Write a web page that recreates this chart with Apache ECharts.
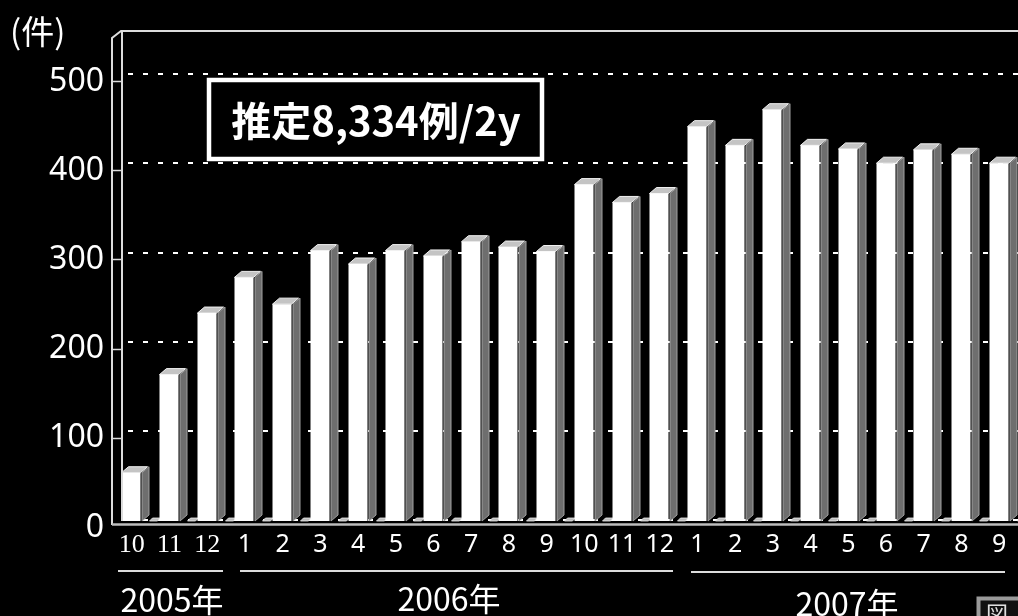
<!DOCTYPE html>
<html>
<head>
<meta charset="utf-8">
<script src="https://cdn.jsdelivr.net/npm/echarts@6/dist/echarts.min.js"></script>
<style>
  html, body { margin: 0; padding: 0; background: #000; }
  #chart { width: 1018px; height: 616px; }
</style>
</head>
<body>
<div id="chart"></div>
<script>
// Monthly case counts, Oct 2005 – Sep 2007
const months = ['10','11','12','1','2','3','4','5','6','7','8','9','10','11','12','1','2','3','4','5','6','7','8','9'];
const cases = [53,163,232,272,242,302,287,302,296,312,306,301,376,356,366,441,420,460,420,416,400,415,410,400];
const yTicks = [0,100,200,300,400,500];
const years = ['2005年','2006年','2007年'];
const unitLabel = '(件)';
const noteText = '推定8,334例/2y';

const LINE = '#dcdcdc';
const chart = echarts.init(document.getElementById('chart'));

// first three month labels are set in a serif face
const categoryData = months.map((m, i) => i < 3
  ? { value: m, textStyle: { fontFamily: 'Liberation Serif', fontSize: 26 } }
  : m);

// pseudo-3D column: white front, grey side, light cap, plus a small floor cap
function renderBar(params, api) {
  const i = api.value(0);
  const v = api.value(1);
  const top = api.coord([i, v]);
  const base = api.coord([i, 0]);
  const w = 19, dx = 7, dy = 6;
  const xL = Math.round(top[0] - w / 2) - 0.5;
  const xR = xL + w;
  const yT = top[1];
  const yB = base[1] + 1;
  return {
    type: 'group',
    children: [
      {
        type: 'polygon',
        shape: { points: [[xR + 1.5, yT], [xR + dx + 1.5, yT - dy], [xR + dx + 1.5, yB - dy], [xR + 1.5, yB]] },
        style: { fill: '#6e6e6e', stroke: '#a0a0a0', lineWidth: 1 }
      },
      {
        type: 'polygon',
        shape: { points: [[xL, yT], [xR, yT], [xR + dx, yT - dy], [xL + dx, yT - dy]] },
        style: { fill: '#c4c4c4', stroke: '#f2f2f2', lineWidth: 1 }
      },
      {
        type: 'rect',
        shape: { x: xL, y: yT, width: w, height: yB - yT },
        style: { fill: '#ffffff' }
      },
      {
        type: 'polygon',
        shape: { points: [[xR + 9, yB], [xR + 17, yB], [xR + 20, yB - 3], [xR + 12, yB - 3]] },
        style: { fill: '#bdbdbd', stroke: '#eee', lineWidth: 0.8 }
      }
    ]
  };
}

const option = {
  backgroundColor: '#000',
  animation: false,
  grid: { left: 113, right: 0, top: 74, bottom: 96, containLabel: false },
  xAxis: {
    type: 'category',
    data: categoryData,
    axisLine: { show: false },
    axisTick: { show: false },
    axisLabel: {
      color: '#fff', fontFamily: 'Noto Sans', fontSize: 25, margin: 12, interval: 0
    }
  },
  yAxis: {
    type: 'value',
    min: yTicks[0],
    max: yTicks[yTicks.length - 1],
    interval: 100,
    axisLine: { show: false },
    axisTick: { show: false },
    axisLabel: {
      color: '#fff', fontFamily: 'Noto Sans', fontSize: 32, margin: 9,
      verticalAlign: 'top', lineHeight: 15
    },
    splitLine: {
      show: true,
      lineStyle: { color: '#fff', width: 2, type: [5, 10] }
    }
  },
  series: [{
    type: 'custom',
    renderItem: renderBar,
    data: cases.map((v, i) => [i, v]),
    encode: { x: 0, y: 1 },
    z: 5
  }]
};
chart.setOption(option);

// frame, wall, floor and annotations
const wallTicks = yTicks.slice(1).map(t => {
  const y = Math.round(chart.convertToPixel({ yAxisIndex: 0 }, t)) + 7.5;
  return { type: 'line', shape: { x1: 112, y1: y, x2: 122, y2: y }, style: { stroke: LINE, lineWidth: 1.5 }, z: 11 };
});

const yearFont = '32px "Noto Sans CJK JP"';
const graphics = [
  // left wall background
  { type: 'rect', shape: { x: 112, y: 30, width: 10, height: 495 }, style: { fill: '#000' }, z: 10 },
  // wall outline and top frame
  { type: 'polyline', shape: { points: [[112, 525], [112, 38], [121, 31], [1018, 31]] },
    style: { stroke: LINE, lineWidth: 2, fill: null }, z: 11 },
  { type: 'line', shape: { x1: 122, y1: 31, x2: 122, y2: 521 }, style: { stroke: LINE, lineWidth: 2 }, z: 11 },
  // floor
  { type: 'line', shape: { x1: 112, y1: 524.5, x2: 1018, y2: 524.5 }, style: { stroke: '#bdbdbd', lineWidth: 2.5 }, z: 11 },
  ...wallTicks,
  // unit label
  { type: 'text', x: 10, y: 31, style: { text: unitLabel, fill: '#fff', font: '33px "Noto Sans CJK JP"', textVerticalAlign: 'middle' }, z: 12 },
  // estimate box
  { type: 'rect', shape: { x: 209, y: 80, width: 333, height: 79 },
    style: { fill: '#000', stroke: '#fff', lineWidth: 4.5 }, z: 12 },
  { type: 'text', x: 376, y: 121,
    style: { text: noteText, fill: '#fff', font: 'bold 40px "Noto Sans CJK JP"', textAlign: 'center', textVerticalAlign: 'middle' }, z: 13 },
  // year underlines
  { type: 'line', shape: { x1: 118, y1: 571, x2: 223, y2: 571 }, style: { stroke: LINE, lineWidth: 2 }, z: 12 },
  { type: 'line', shape: { x1: 240, y1: 571, x2: 673, y2: 571 }, style: { stroke: LINE, lineWidth: 2 }, z: 12 },
  { type: 'line', shape: { x1: 691, y1: 572, x2: 1005, y2: 572 }, style: { stroke: LINE, lineWidth: 2 }, z: 12 },
  // year labels
  { type: 'text', x: 172, y: 600, style: { text: years[0], fill: '#fff', font: yearFont, textAlign: 'center', textVerticalAlign: 'middle' }, z: 12 },
  { type: 'text', x: 449, y: 599, style: { text: years[1], fill: '#fff', font: yearFont, textAlign: 'center', textVerticalAlign: 'middle' }, z: 12 },
  { type: 'text', x: 847, y: 604, style: { text: years[2], fill: '#fff', font: yearFont, textAlign: 'center', textVerticalAlign: 'middle' }, z: 12 },
  // figure tag at the corner
  { type: 'rect', shape: { x: 978.5, y: 598.5, width: 60, height: 30 },
    style: { fill: '#111', stroke: '#9a9a9a', lineWidth: 4 }, z: 12 },
  { type: 'text', x: 986, y: 603, style: { text: '図', fill: '#e0e0e0', font: '22px "Noto Sans CJK JP"' }, z: 13 }
];
chart.setOption({ graphic: graphics });
</script>
</body>
</html>
